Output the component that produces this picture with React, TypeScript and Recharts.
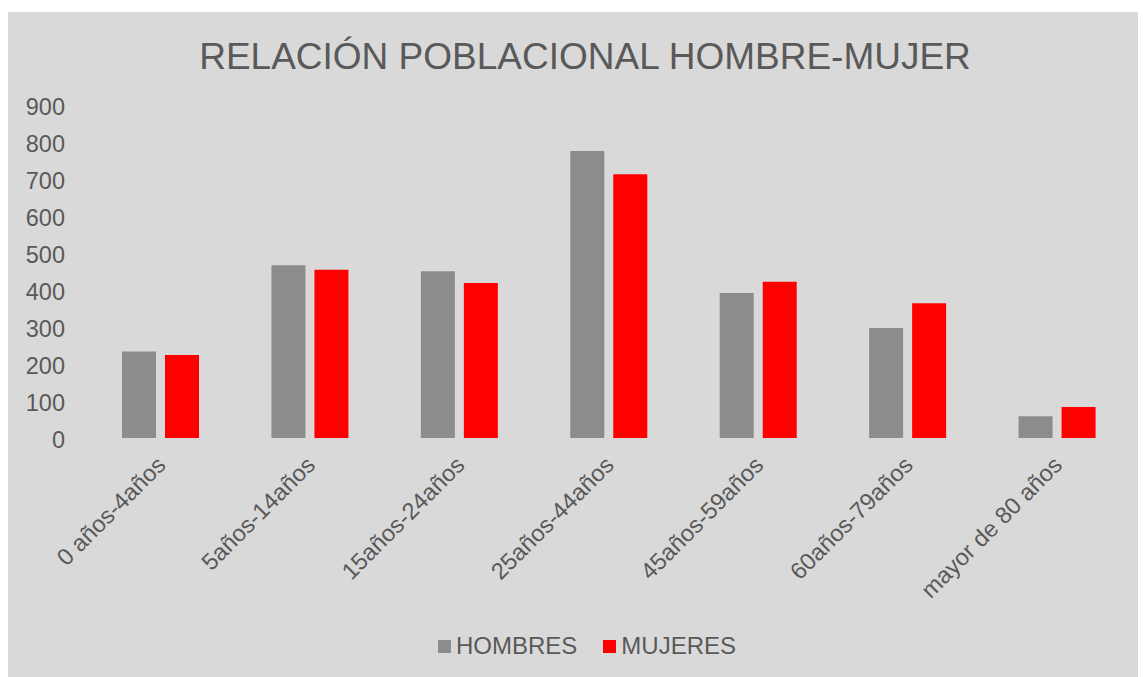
import React from "react";
import { BarChart, Bar, XAxis, YAxis, Legend } from "recharts";

const categories = ["0 años-4años", "5años-14años", "15años-24años", "25años-44años", "45años-59años", "60años-79años", "mayor de 80 años"];
const hombres = [234, 467, 451, 776, 392, 297, 59];
const mujeres = [224, 455, 419, 713, 422, 364, 84];
const yTicks = [0, 100, 200, 300, 400, 500, 600, 700, 800, 900];

const data = categories.map((c, i) => ({ name: c, HOMBRES: hombres[i], MUJERES: mujeres[i] }));

const FONT = "'Liberation Sans', Arial, sans-serif";
const TXT = "#595959";

const XTick = (props: any) => {
  const { x, y, payload } = props;
  const ax = x + 2;
  const ay = y + 16;
  return (
    <text
      x={ax}
      y={ay}
      transform={`rotate(-45, ${ax}, ${ay})`}
      textAnchor="end"
      fill={TXT}
      fontSize={23.5}
      fontFamily={FONT}
      dominantBaseline="middle"
    >
      {payload.value}
    </text>
  );
};

const LegendContent = () => (
  <div style={{ display: "flex", justifyContent: "center", alignItems: "center", fontFamily: FONT, fontSize: 24, color: TXT }}>
    <div style={{ display: "flex", alignItems: "center", marginRight: 26 }}>
      <span style={{ width: 13, height: 13, background: "#8c8c8c", display: "inline-block", marginRight: 5 }} />
      <span>HOMBRES</span>
    </div>
    <div style={{ display: "flex", alignItems: "center" }}>
      <span style={{ width: 13, height: 13, background: "#ff0000", display: "inline-block", marginRight: 5 }} />
      <span>MUJERES</span>
    </div>
  </div>
);

export default function App() {
  return (
    <div style={{ position: "relative", width: 1138, height: 665, marginTop: 4, background: "#d9d9d9" }}>
      <div
        style={{
          position: "absolute",
          left: 8,
          width: 1138,
          top: 24,
          textAlign: "center",
          fontFamily: FONT,
          fontSize: 37,
          color: TXT,
          lineHeight: "42px",
          whiteSpace: "nowrap",
        }}
      >
        RELACIÓN POBLACIONAL HOMBRE-MUJER
      </div>
      <BarChart
        width={1138}
        height={665}
        data={data}
        margin={{ top: 93, right: 14, left: 0, bottom: 89 }}
        barSize={34}
        barGap={9}
      >
        <XAxis dataKey="name" axisLine={false} tickLine={false} height={150} tick={<XTick />} interval={0} />
        <YAxis
          domain={[0, 900]}
          ticks={yTicks}
          axisLine={false}
          tickLine={false}
          tickSize={0}
          tickMargin={21}
          width={78}
          tick={{ fill: TXT, fontSize: 23.5, fontFamily: FONT, dy: 2 }}
          interval={0}
        />
        <Legend
          verticalAlign="middle"
          align="center"
          layout="horizontal"
          content={<LegendContent />}
          wrapperStyle={{ top: 620, left: 10, width: 1138 }}
        />
        <Bar dataKey="HOMBRES" fill="#8c8c8c" isAnimationActive={false} />
        <Bar dataKey="MUJERES" fill="#ff0000" isAnimationActive={false} />
      </BarChart>
    </div>
  );
}
